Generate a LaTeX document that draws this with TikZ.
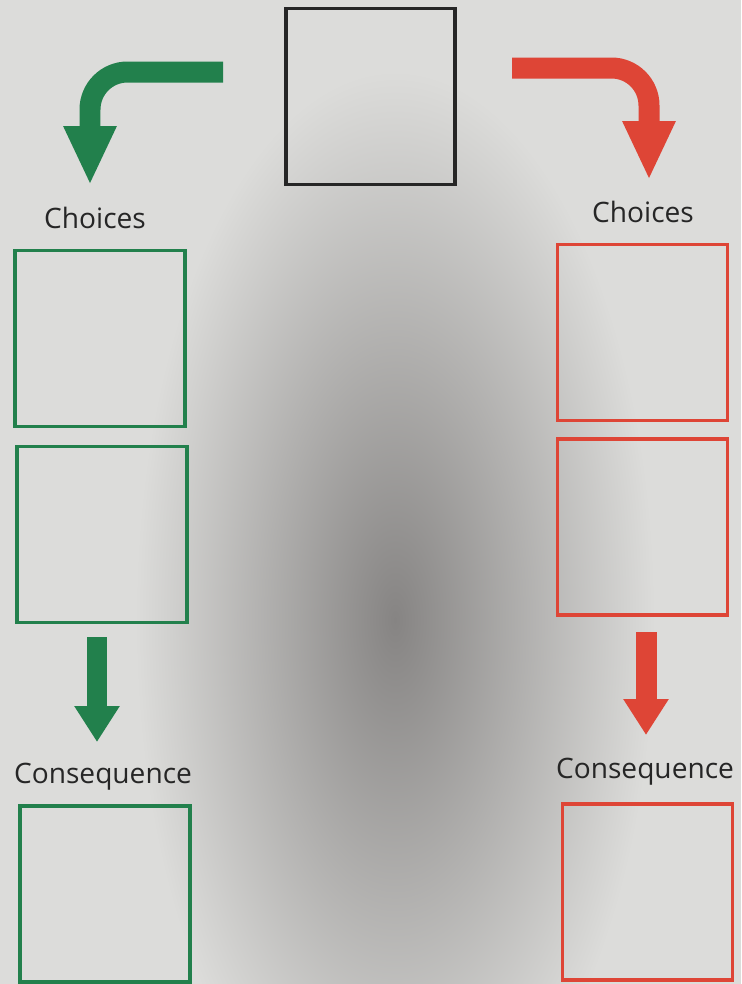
\documentclass[tikz,border=0pt]{standalone}
\usepackage{fontspec}
\setmainfont{Open Sans}
\usetikzlibrary{arrows.meta}
\definecolor{sheetgreen}{HTML}{22804C}
\definecolor{sheetred}{HTML}{DE4536}
\definecolor{paperlight}{HTML}{DCDCDA}
\definecolor{paperdark}{HTML}{868483}
\begin{document}
\begin{tikzpicture}[
    x=0.02cm, y=-0.02cm,
    box/.style={rectangle, draw, line width=1.8pt, minimum width=3.4cm, minimum height=3.52cm, inner sep=0pt},
    gbox/.style={box, draw=sheetgreen},
    rbox/.style={box, draw=sheetred},
    label/.style={font=\fontsize{16}{18}\selectfont, text=black!85},
    bigarrow/.style={line width=0.42cm, rounded corners=0.75cm, -{Triangle[length=1.18cm, width=0.98cm]}},
    downarrow/.style={line width=0.42cm, -{Triangle[length=0.72cm, width=0.86cm]}}
]
\useasboundingbox (0,0) rectangle (741,984);
% paper and shadow
\begin{scope}
\clip (0,0) rectangle (741,984);
\fill[paperlight] (0,0) rectangle (741,984);
\shade[inner color=paperdark, outer color=paperlight] (395,620) ellipse [x radius=5.2cm, y radius=11cm];
\end{scope}

% Start box
\node[box, draw=black!85, minimum width=3.38cm] (start) at (370.5,96.5) {};

% Green side
\node[label] (gChoices) at (95,218) {Choices};
\node[gbox] (gChoice1) at (100,338.5) {};
\node[gbox] (gChoice2) at (102,534.5) {};
\node[label] (gCons) at (103,777) {Consequence};
\node[gbox] (gResult) at (105,894) {};

% Red side
\node[label] (rChoices) at (643,212) {Choices};
\node[rbox] (rChoice1) at (642.5,332.5) {};
\node[rbox] (rChoice2) at (642.5,527) {};
\node[label] (rCons) at (645,772) {Consequence};
\node[rbox] (rResult) at (647.5,892) {};

% Arrows
\coordinate (gTail) at (223,72);
\coordinate (gBend) at (90,72);
\coordinate (gTip) at (90,185);
\coordinate (rTail) at (512,68);
\coordinate (rBend) at (649,68);
\coordinate (rTip) at (649,180);
\draw[bigarrow, sheetgreen] (gTail) -- (gBend) -- (gTip);
\draw[bigarrow, sheetred] (rTail) -- (rBend) -- (rTip);

\coordinate (gDownTop) at (97,637);
\coordinate (gDownTip) at (97,742);
\coordinate (rDownTop) at (646,632);
\coordinate (rDownTip) at (646,735);
\draw[downarrow, sheetgreen] (gDownTop) -- (gDownTip);
\draw[downarrow, sheetred] (rDownTop) -- (rDownTip);

\end{tikzpicture}
\end{document}
